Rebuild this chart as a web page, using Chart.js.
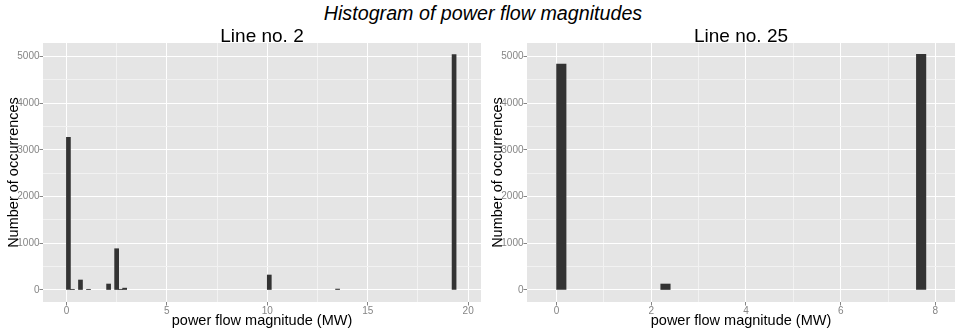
<!DOCTYPE html>
<html>
<head>
<meta charset="utf-8">
<script src="https://cdn.jsdelivr.net/npm/chart.js@4"></script>
<style>
  html, body { margin: 0; padding: 0; background: #ffffff; width: 960px; height: 332px; overflow: hidden; }
  #title {
    position: absolute; left: 0; top: 3px; width: 966px; text-align: center;
    font: italic 19.7px 'Liberation Sans', Arial, sans-serif; line-height: 20px; color: #000;
  }
  .panel { position: absolute; top: 0; height: 332px; }
  #p1 { left: 0; width: 484px; }
  #p2 { left: 484px; width: 476px; }
</style>
</head>
<body>
<div id="title">Histogram of power flow magnitudes</div>
<div class="panel" id="p1"><canvas id="c1" width="484" height="332"></canvas></div>
<div class="panel" id="p2"><canvas id="c2" width="476" height="332"></canvas></div>
<script>
// Histogram data: every bin is BIN_WIDTH wide and starts at the listed value (MW)
const BIN_WIDTH = 0.2;

const line2BinStarts = [0, 0.2, 0.6, 1.0, 2.0, 2.4, 2.6, 2.8, 10.0, 13.4, 19.2];
const line2Counts    = [3270, 15, 214, 15, 128, 884, 15, 40, 321, 20, 5040];

const line25BinStarts = [0, 2.2, 7.6];
const line25Counts    = [4835, 128, 5045];

const panelTitles = ['Line no. 2', 'Line no. 25'];
const xAxisTitle = 'power flow magnitude (MW)';
const yAxisTitle = 'Number of occurrences';

// labelled (major) ticks and unlabelled minor grid positions
const yMajorTicks = [0, 1000, 2000, 3000, 4000, 5000];
const yMinorTicks = [500, 1500, 2500, 3500, 4500];
const line2XMajorTicks = [0, 5, 10, 15, 20];
const line2XMinorTicks = [2.5, 7.5, 12.5, 17.5];
const line25XMajorTicks = [0, 2, 4, 6, 8];
const line25XMinorTicks = [1, 3, 5, 7];

const FONT = "'Liberation Sans', Arial, sans-serif";
const PANEL_BG = '#E5E5E5';
const MAJOR_GRID = '#FFFFFF';
const MINOR_GRID = '#F2F2F2';
const TICK_GREY = '#858585';
const BAR_FILL = '#333333';

function tickSet(major, minor) {
  return major.map(v => ({ value: v, major: true }))
    .concat(minor.map(v => ({ value: v, major: false })))
    .sort((a, b) => a.value - b.value);
}
const isMajorCtx = (c, major) => !!(c && c.tick && major.includes(c.tick.value));

const panelBackground = {
  id: 'panelBackground',
  beforeDraw(chart) {
    const { ctx, chartArea: a } = chart;
    ctx.save();
    ctx.fillStyle = PANEL_BG;
    ctx.fillRect(a.left, a.top, a.right - a.left, a.bottom - a.top);
    ctx.restore();
  }
};

const panelTitle = {
  id: 'panelTitle',
  afterDraw(chart, args, o) {
    const { ctx, chartArea: a } = chart;
    ctx.save();
    ctx.font = o.size + 'px ' + FONT;
    ctx.fillStyle = '#000';
    ctx.textAlign = 'center';
    ctx.textBaseline = 'alphabetic';
    ctx.fillText(o.text, (a.left + a.right) / 2, o.baseline);
    ctx.restore();
  }
};

function axisGrid(major) {
  return {
    offset: false,
    color: c => isMajorCtx(c, major) ? MAJOR_GRID : MINOR_GRID,
    tickColor: c => isMajorCtx(c, major) ? TICK_GREY : 'rgba(0,0,0,0)',
    lineWidth: 1,
    tickLength: 3.5,
    drawTicks: true
  };
}

function axisTicks(major) {
  return {
    autoSkip: false,
    maxRotation: 0,
    padding: 0,
    color: TICK_GREY,
    font: { family: FONT, size: 10 },
    callback: v => major.includes(v) ? String(v) : ''
  };
}

function makeHistogram(canvasId, starts, counts, cfg) {
  const points = starts.map((s, i) => ({ x: s + BIN_WIDTH / 2, y: counts[i] }));
  const chart = new Chart(document.getElementById(canvasId), {
    type: 'bar',
    data: {
      datasets: [{
        data: points,
        backgroundColor: BAR_FILL,
        borderWidth: 0,
        barThickness: 4
      }]
    },
    options: {
      responsive: false,
      animation: false,
      events: [],
      layout: { padding: { top: 43, right: cfg.padRight, left: 0, bottom: 0 } },
      plugins: {
        legend: { display: false },
        tooltip: { enabled: false },
        panelTitle: { text: cfg.title, size: 19, baseline: 41.5 }
      },
      scales: {
        x: {
          type: 'linear',
          offset: false,
          min: cfg.xMin,
          max: cfg.xMax,
          afterBuildTicks: s => { s.ticks = tickSet(cfg.xMajor, cfg.xMinor); },
          afterFit: s => { s.height = 30; },
          border: { display: false },
          grid: axisGrid(cfg.xMajor),
          ticks: axisTicks(cfg.xMajor),
          title: {
            display: true,
            text: xAxisTitle,
            color: '#000',
            font: { family: FONT, size: 14.5, lineHeight: '15px' },
            padding: { top: 0, bottom: 4 }
          }
        },
        y: {
          type: 'linear',
          min: -257,
          max: 5289,
          afterBuildTicks: s => { s.ticks = tickSet(yMajorTicks, yMinorTicks); },
          afterFit: s => { s.width = 43; },
          border: { display: false },
          grid: axisGrid(yMajorTicks),
          ticks: axisTicks(yMajorTicks),
          title: {
            display: true,
            text: yAxisTitle,
            color: '#000',
            font: { family: FONT, size: 14.5, lineHeight: '15px' },
            padding: { top: 6, bottom: 0 }
          }
        }
      }
    },
    plugins: [panelBackground, panelTitle]
  });
  // bars span exactly one bin on the x scale
  const xs = chart.scales.x;
  chart.data.datasets[0].barThickness = xs.getPixelForValue(BIN_WIDTH) - xs.getPixelForValue(0);
  chart.update();
  return chart;
}

makeHistogram('c1', line2BinStarts, line2Counts, {
  title: panelTitles[0], xMin: -1.166, xMax: 20.64,
  xMajor: line2XMajorTicks, xMinor: line2XMinorTicks, padRight: 3
});
makeHistogram('c2', line25BinStarts, line25Counts, {
  title: panelTitles[1], xMin: -0.625, xMax: 8.415,
  xMajor: line25XMajorTicks, xMinor: line25XMinorTicks, padRight: 5
});
</script>
</body>
</html>
